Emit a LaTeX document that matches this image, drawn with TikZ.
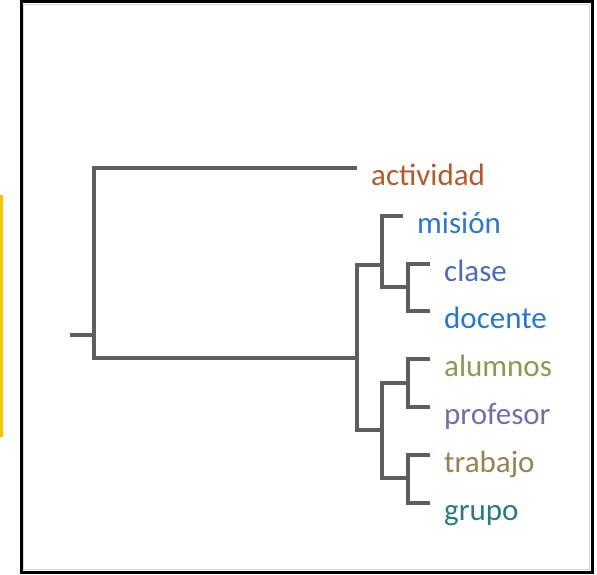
\documentclass[tikz,border=0pt]{standalone}
\usepackage{fontspec}
\setmainfont{Carlito}
\usepackage{xcolor}
\usetikzlibrary{positioning}

\definecolor{branchgray}{HTML}{5E5E5E}
\definecolor{markyellow}{HTML}{F5C400}
\definecolor{cAct}{HTML}{B05A30}
\definecolor{cMis}{HTML}{2E78C8}
\definecolor{cCla}{HTML}{4A6CB8}
\definecolor{cDoc}{HTML}{2878C8}
\definecolor{cAlu}{HTML}{8A9A50}
\definecolor{cPro}{HTML}{7070A8}
\definecolor{cTra}{HTML}{9A8050}
\definecolor{cGru}{HTML}{2A7A80}

\begin{document}
\begin{tikzpicture}[x=1pt,y=-1pt,
    branch/.style={draw=branchgray,line width=3.2pt},
    leaf/.style={anchor=base west,inner xsep=14pt,inner ysep=0pt,font=\fontsize{31}{36}\selectfont}]
    \useasboundingbox (0,0) rectangle (597,575);

    % Frame
    \draw[line width=3pt] (21,2) rectangle (592,572);
    \draw[gray!30,line width=1pt] (23.5,4.5) rectangle (589.5,569.5);

    % Yellow mark on the left edge
    \draw[markyellow,line width=3pt] (1.5,195) -- (1.5,437);

    % Leaves (base west = end of the leaf line)
    \node[leaf,text=cAct] (act) at (357,185) {actividad};
    \node[leaf,text=cMis] (mis) at (403,233) {misión};
    \node[leaf,text=cCla] (cla) at (430,281) {clase};
    \node[leaf,text=cDoc] (doc) at (430,328) {docente};
    \node[leaf,text=cAlu] (alu) at (430,376) {alumnos};
    \node[leaf,text=cPro] (pro) at (430,424) {profesor};
    \node[leaf,text=cTra] (tra) at (430,472) {trabajo};
    \node[leaf,text=cGru] (gru) at (430,520) {grupo};

    % Junctions
    \coordinate (root) at (70,335);
    \coordinate (j1) at (94,335);
    \coordinate (j2) at (357,358);
    \coordinate (j3) at (382,265);
    \coordinate (j4) at (408,287);
    \coordinate (j5) at (382,430);
    \coordinate (j6) at (408,383);
    \coordinate (j7) at (408,478);

    % Dendrogram
    \draw[branch] (root) -- (j1);
    \draw[branch] (j1) |- ([yshift=17pt]act.base west);
    \draw[branch] (j1) |- (j2);
    \draw[branch] (j2) |- (j3);
    \draw[branch] (j2) |- (j5);
    \draw[branch] (j3) |- ([yshift=17pt]mis.base west);
    \draw[branch] (j3) |- (j4);
    \draw[branch] (j4) |- ([yshift=17pt]cla.base west);
    \draw[branch] (j4) |- ([yshift=17pt]doc.base west);
    \draw[branch] (j5) |- (j6);
    \draw[branch] (j5) |- (j7);
    \draw[branch] (j6) |- ([yshift=17pt]alu.base west);
    \draw[branch] (j6) |- ([yshift=17pt]pro.base west);
    \draw[branch] (j7) |- ([yshift=17pt]tra.base west);
    \draw[branch] (j7) |- ([yshift=17pt]gru.base west);
\end{tikzpicture}
\end{document}
